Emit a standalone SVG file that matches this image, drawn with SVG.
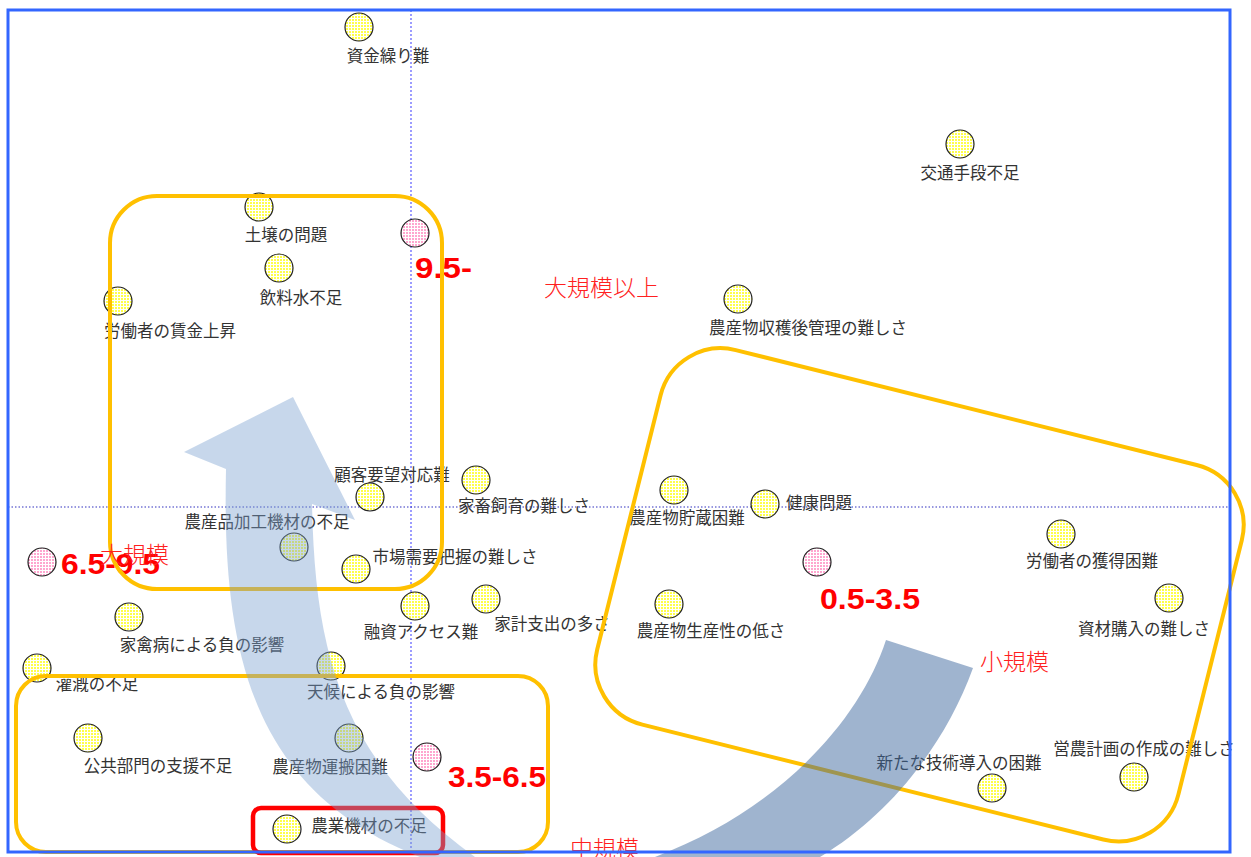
<svg xmlns="http://www.w3.org/2000/svg" width="1251" height="857" viewBox="0 0 1251 857">
<defs>
<pattern id="gy" width="3" height="3" patternUnits="userSpaceOnUse"><rect width="3" height="3" fill="#ffffff"/><rect x="1" y="1" width="2" height="2" fill="#ffff4a"/></pattern>
<pattern id="gp" width="3" height="3" patternUnits="userSpaceOnUse"><rect width="3" height="3" fill="#ffffff"/><rect x="1" y="1" width="2" height="2" fill="#ffa6cf"/></pattern>
<style>
.n{fill:url(#gy);stroke:#222;stroke-width:1.2}
.p{fill:url(#gp);stroke:#222;stroke-width:1.2}
.t{font-family:"Noto Sans CJK JP","Noto Sans CJK SC",sans-serif;font-size:16.5px;fill:#333333;text-anchor:middle}
.r{font-family:"Noto Sans CJK JP","Noto Sans CJK SC",sans-serif;font-size:23px;fill:#ff2020;font-weight:300}
.num{font-family:"Liberation Sans",Arial,sans-serif;font-size:29px;font-weight:bold;fill:#ff0000}
.ob{fill:none;stroke:#ffc000;stroke-width:4}
</style>
</defs>
<rect width="1251" height="857" fill="#ffffff"/>
<g id="axes">
<line x1="411" y1="10" x2="411" y2="852" stroke="#5a5aff" stroke-width="1.2" stroke-dasharray="2,2"/>
<line x1="8" y1="507" x2="1230" y2="507" stroke="#3030c0" stroke-width="1.2" stroke-dasharray="1.5,2"/>
</g>
<g id="nodes">
<g id="n1"><circle class="n" cx="359" cy="27" r="14"/><text class="t" x="388" y="62">資金繰り難</text></g>
<g id="n2"><circle class="n" cx="960" cy="144" r="14"/><text class="t" x="970" y="179">交通手段不足</text></g>
<g id="n3"><circle class="n" cx="259" cy="207" r="14"/><text class="t" x="286" y="241">土壌の問題</text></g>
<g id="n4"><circle class="n" cx="279" cy="268" r="14"/><text class="t" x="301" y="304">飲料水不足</text></g>
<g id="n5"><circle class="n" cx="118" cy="301" r="14"/><text class="t" x="170" y="337">労働者の賃金上昇</text></g>
<g id="n6"><circle class="n" cx="738" cy="299" r="14"/><text class="t" x="808" y="334">農産物収穫後管理の難しさ</text></g>
<g id="n7"><circle class="n" cx="476" cy="480" r="14"/><text class="t" x="524" y="512">家畜飼育の難しさ</text></g>
<g id="n8"><circle class="n" cx="370" cy="497" r="14"/><text class="t" x="392" y="481">顧客要望対応難</text></g>
<g id="n9"><circle class="n" cx="294" cy="547" r="14"/><text class="t" x="267" y="528">農産品加工機材の不足</text></g>
<g id="n10"><circle class="n" cx="356" cy="569" r="14"/><text class="t" x="455" y="563">市場需要把握の難しさ</text></g>
<g id="n11"><circle class="n" cx="415" cy="606" r="14"/><text class="t" x="421" y="638">融資アクセス難</text></g>
<g id="n12"><circle class="n" cx="486" cy="599" r="14"/><text class="t" x="552" y="630">家計支出の多さ</text></g>
<g id="n13"><circle class="n" cx="129" cy="617" r="14"/><text class="t" x="202" y="651">家禽病による負の影響</text></g>
<g id="n14"><circle class="n" cx="37" cy="668" r="14"/><text class="t" x="97" y="690">灌漑の不足</text></g>
<g id="n15"><circle class="n" cx="331" cy="666" r="14"/><text class="t" x="381" y="698">天候による負の影響</text></g>
<g id="n16"><circle class="n" cx="88" cy="738" r="14"/><text class="t" x="158" y="772">公共部門の支援不足</text></g>
<g id="n17"><circle class="n" cx="349" cy="738" r="14"/><text class="t" x="330" y="773">農産物運搬困難</text></g>
<g id="n18"><circle class="n" cx="287" cy="829" r="14"/><text class="t" x="369" y="832">農業機材の不足</text></g>
<g id="n19"><circle class="n" cx="674" cy="490" r="14"/><text class="t" x="687" y="524">農産物貯蔵困難</text></g>
<g id="n20"><circle class="n" cx="765" cy="504" r="14"/><text class="t" x="819" y="509">健康問題</text></g>
<g id="n21"><circle class="n" cx="669" cy="604" r="14"/><text class="t" x="711" y="637">農産物生産性の低さ</text></g>
<g id="n22"><circle class="n" cx="1061" cy="534" r="14"/><text class="t" x="1092" y="567">労働者の獲得困難</text></g>
<g id="n23"><circle class="n" cx="1169" cy="598" r="14"/><text class="t" x="1144" y="635">資材購入の難しさ</text></g>
<g id="n24"><circle class="n" cx="992" cy="788" r="14"/><text class="t" x="959" y="769">新たな技術導入の困難</text></g>
<g id="n25"><circle class="n" cx="1134" cy="777" r="14"/><text class="t" x="1144" y="755">営農計画の作成の難しさ</text></g>
<g id="s1"><circle class="p" cx="415" cy="233" r="14"/><text class="num" x="415" y="278" textLength="57" lengthAdjust="spacingAndGlyphs">9.5-</text></g>
<g id="s2"><circle class="p" cx="42" cy="562" r="14"/><text class="num" x="61" y="574" textLength="99" lengthAdjust="spacingAndGlyphs">6.5-9.5</text></g>
<g id="s3"><circle class="p" cx="427" cy="757" r="14"/><text class="num" x="448" y="787" textLength="98" lengthAdjust="spacingAndGlyphs">3.5-6.5</text></g>
<g id="s4"><circle class="p" cx="817" cy="562" r="14"/><text class="num" x="820" y="609" textLength="100" lengthAdjust="spacingAndGlyphs">0.5-3.5</text></g>
</g>
<g id="groups">
<rect id="g-large" class="ob" x="110" y="196" width="332" height="393" rx="47"/>
<rect id="g-mid" class="ob" x="16" y="676" width="532" height="176" rx="30"/>
<rect id="g-small" class="ob" x="-299.5" y="-193" width="599" height="386" rx="62" transform="translate(919.5,594.8) rotate(14)"/>
<rect id="highlight" x="253" y="808" width="190" height="45" rx="8" fill="none" stroke="#ff0000" stroke-width="4.5"/>
</g>
<g id="connectors">
<path d="M293,397 L355,520 L312,504 C315,650 340,760 475,857 L420,857 C250,790 222,650 226,469 L184,452 Z" fill="#7a9fd0" fill-opacity="0.42"/>
<path d="M886,640 L973,668 C945,745 890,815 820,857 L655,857 C780,810 860,720 886,640 Z" fill="#3f6aa0" fill-opacity="0.5"/>
</g>
<g id="labels">
<text class="r" x="544" y="296">大規模以上</text>
<text class="r" x="100" y="563">大規模</text>
<text class="r" x="980" y="670">小規模</text>
<text class="r" x="570" y="857">中規模</text>
</g>
<rect id="frame" x="8" y="10" width="1222" height="842" fill="none" stroke="#3366ff" stroke-width="3"/>
</svg>
